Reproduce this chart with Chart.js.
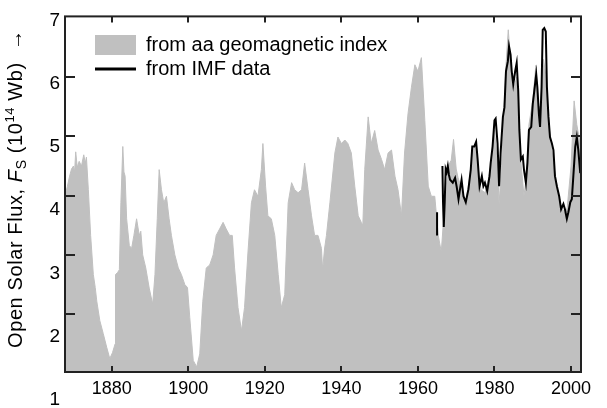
<!DOCTYPE html>
<html>
<head>
<meta charset="utf-8">
<script src="https://cdn.jsdelivr.net/npm/chart.js@4.4.1/dist/chart.umd.min.js"></script>
<style>
  html, body { margin: 0; padding: 0; background: #fff; }
  canvas { display: block; }
</style>
</head>
<body>
<canvas id="flux-chart" width="607" height="408"></canvas>
<script>
// open solar flux reconstructed from the aa index (grey area)
const aaYears = [
	1867.8, 1868.4, 1869.0, 1869.5, 1870.0, 1870.3, 1870.6, 1871.0, 1871.5, 1872.1,
	1872.7, 1873.1, 1873.4, 1873.9, 1874.5, 1875.2, 1875.7, 1876.1, 1876.9, 1877.8,
	1878.7, 1879.5, 1880.2, 1880.9, 1881.0, 1881.5, 1882.0, 1882.4, 1882.9, 1883.2,
	1883.5, 1883.9, 1884.6, 1885.2, 1885.8, 1886.5, 1887.2, 1887.6, 1888.1, 1888.9,
	1889.8, 1890.7, 1891.3, 1891.9, 1892.4, 1893.0, 1893.6, 1894.3, 1895.0, 1895.6,
	1896.5, 1897.4, 1898.2, 1899.1, 1899.8, 1900.4, 1901.3, 1902.2, 1903.0, 1903.8,
	1904.7, 1905.6, 1906.5, 1907.3, 1908.2, 1909.1, 1909.9, 1910.8, 1911.5, 1912.1,
	1913.0, 1913.9, 1914.7, 1915.6, 1916.5, 1917.3, 1918.2, 1919.1, 1919.5, 1920.2,
	1920.8, 1921.7, 1922.6, 1923.5, 1924.3, 1925.2, 1926.1, 1927.0, 1927.8, 1928.7,
	1929.6, 1930.4, 1931.3, 1932.2, 1933.0, 1933.9, 1934.8, 1935.1, 1935.6, 1936.1,
	1937.0, 1938.3, 1939.1, 1940.0, 1940.9, 1941.7, 1942.6, 1943.5, 1944.4, 1945.2,
	1945.6, 1946.1, 1947.0, 1947.8, 1948.7, 1949.6, 1950.5, 1951.3, 1952.2, 1953.1,
	1954.0, 1954.8, 1955.7, 1956.5, 1957.4, 1958.3, 1959.2, 1960.0, 1960.9, 1961.8,
	1962.7, 1963.5, 1964.4, 1965.3, 1966.1, 1967.0, 1967.9, 1968.7, 1969.3, 1970.0,
	1970.5, 1971.5, 1972.5, 1973.5, 1974.5, 1975.2, 1976.0, 1976.5, 1977.5, 1978.5,
	1979.5, 1980.0, 1980.8, 1981.2, 1982.0, 1983.0, 1983.6, 1984.3, 1985.0, 1985.8,
	1986.5, 1987.0, 1987.7, 1988.5, 1989.0, 1990.0, 1990.8, 1991.5, 1992.0, 1992.8,
	1993.5, 1993.8, 1994.5, 1995.5, 1996.5, 1997.5, 1998.5, 1999.0, 2000.0, 2000.8,
	2001.5, 2002.6
];
const aaFlux = [
	4.00, 4.15, 4.33, 4.45, 4.50, 4.40, 4.74, 4.48, 4.58, 4.50,
	4.69, 4.55, 4.65, 4.10, 3.33, 2.67, 2.45, 2.22, 1.89, 1.67,
	1.44, 1.25, 1.35, 1.50, 2.67, 2.70, 2.75, 3.88, 4.83, 4.40,
	4.33, 3.61, 3.16, 3.11, 3.33, 3.61, 3.33, 3.40, 3.00, 2.78,
	2.44, 2.17, 2.67, 3.61, 4.44, 4.10, 3.88, 3.99, 3.61, 3.33,
	3.00, 2.78, 2.67, 2.50, 2.45, 1.94, 1.22, 1.11, 1.33, 2.22,
	2.78, 2.83, 3.00, 3.33, 3.44, 3.55, 3.44, 3.33, 3.33, 2.78,
	2.11, 1.72, 2.11, 3.05, 3.88, 4.10, 3.99, 4.44, 4.88, 4.16,
	3.66, 3.61, 3.33, 2.67, 2.11, 2.33, 3.88, 4.22, 4.10, 4.05,
	4.10, 4.55, 4.10, 3.66, 3.33, 3.33, 3.11, 2.75, 3.10, 3.33,
	3.88, 4.72, 4.99, 4.88, 4.94, 4.88, 4.72, 4.16, 3.66, 3.55,
	3.50, 4.44, 5.33, 4.88, 5.10, 4.77, 4.61, 4.44, 4.72, 4.77,
	4.33, 4.10, 3.66, 4.72, 5.38, 5.83, 6.21, 6.10, 6.33, 5.27,
	4.16, 3.99, 3.99, 3.33, 3.05, 3.88, 4.50, 4.60, 4.95, 4.45,
	4.30, 4.10, 3.90, 4.30, 4.80, 4.85, 4.30, 4.10, 4.05, 4.30,
	4.70, 5.10, 4.50, 3.85, 4.70, 6.20, 6.80, 6.20, 5.80, 6.00,
	5.00, 4.50, 4.00, 4.40, 5.20, 5.60, 6.20, 5.50, 5.50, 6.30,
	6.00, 5.60, 5.00, 4.50, 4.10, 3.80, 3.70, 3.80, 4.50, 5.60,
	5.20, 4.80
];

// open solar flux from IMF measurements (black line), null = gap
const imfYears = [
	1965.0, 1965.0, 1965.7, 1966.4, 1966.55, 1966.75, 1967.0, 1967.25, 1967.5, 1967.8,
	1968.1, 1968.4, 1969.1, 1969.7, 1970.1, 1970.6, 1971.0, 1971.4, 1971.9, 1972.5,
	1973.2, 1973.8, 1974.2, 1974.7, 1975.2, 1975.6, 1976.1, 1976.7, 1977.1, 1977.5,
	1978.1, 1978.7, 1979.0, 1979.5, 1980.0, 1980.3, 1980.8, 1981.2, 1981.6, 1982.2,
	1982.6, 1983.0, 1983.5, 1983.8, 1984.2, 1984.5, 1984.9, 1985.4, 1985.8, 1986.2,
	1986.5, 1986.9, 1987.4, 1987.7, 1988.2, 1988.6, 1989.0, 1989.6, 1990.0, 1990.4,
	1990.9, 1991.2, 1991.6, 1991.9, 1992.3, 1992.6, 1993.0, 1993.4, 1993.7, 1994.1,
	1994.5, 1995.0, 1995.4, 1995.8, 1996.3, 1996.9, 1997.4, 1998.0, 1998.4, 1998.9,
	1999.3, 1999.8, 2000.2, 2000.6, 2001.1, 2001.5, 2001.9, 2002.4
];
const imfFlux = [
	3.72, 3.33, null, 4.50, 3.90, 3.47, 3.90, 4.45, 4.40, 4.50,
	4.35, 4.27, 4.22, 4.30, 4.16, 3.94, 4.11, 4.27, 3.99, 3.89,
	4.11, 4.44, 4.83, 4.83, 4.91, 4.61, 4.16, 4.33, 4.16, 4.22,
	4.08, 4.33, 4.55, 4.83, 5.27, 5.30, 4.88, 4.16, 4.72, 5.33,
	5.49, 6.10, 6.27, 6.52, 6.38, 6.10, 5.88, 6.10, 6.24, 5.77,
	5.11, 4.61, 4.66, 4.44, 4.22, 4.55, 5.11, 5.16, 5.55, 5.77,
	6.05, 5.83, 5.38, 5.16, 5.83, 6.80, 6.83, 6.77, 5.83, 5.33,
	4.99, 4.88, 4.77, 4.33, 4.16, 3.99, 3.77, 3.86, 3.77, 3.61,
	3.72, 3.89, 3.94, 4.33, 4.83, 4.99, 4.77, 4.38
];

const xTicks = [1880, 1900, 1920, 1940, 1960, 1980, 2000];
const yTicks = [2, 3, 4, 5, 6];
const yLabels = [1, 2, 3, 4, 5, 6, 7];

const aaLabel = 'from aa geomagnetic index';
const imfLabel = 'from IMF data';

const FONT = "'Liberation Sans', Arial, Helvetica, sans-serif";
const GREY = '#c0c0c0';
const INK = '#222';

// axis ranges
const X_MIN = 1867.8, X_MAX = 2002.6;
const Y_MIN = 1.024, Y_MAX = 7.026;
// the printed y numbers sit on a slightly different scale than the tick marks
const LAB_MIN = 1.434, LAB_MAX = 7.075;

// y axis title, drawn as rich text (italic F, subscript, superscript)
const titleRuns = [
	{ text: 'Open Solar Flux, ', size: 20, dy: 0 },
	{ text: 'F', size: 20, dy: 0, italic: true },
	{ text: 'S', size: 14, dy: 4 },
	{ text: ' (10', size: 20, dy: 0 },
	{ text: '14', size: 13, dy: -8 },
	{ text: ' Wb)', size: 20, dy: 0 },
	{ text: '  \u2192', size: 20, dy: 0 }
];

const axisTitle = {
	id: 'axisTitle',
	afterDraw(chart) {
		const ctx = chart.ctx;
		ctx.save();
		ctx.translate(22, 348);
		ctx.rotate(-Math.PI / 2);
		ctx.fillStyle = '#000';
		ctx.textBaseline = 'alphabetic';
		ctx.textAlign = 'left';
		if ('letterSpacing' in ctx) ctx.letterSpacing = '0.6px';
		let x = 0;
		for (const run of titleRuns) {
			ctx.font = (run.italic ? 'italic ' : '') + run.size + 'px ' + FONT;
			ctx.fillText(run.text, x, run.dy);
			x += ctx.measureText(run.text).width;
		}
		ctx.restore();
	}
};

// box round the plot, ticks pointing inwards on all four sides
const frameTicks = {
	id: 'frameTicks',
	afterDatasetsDraw(chart) {
		const { ctx, chartArea: a, scales } = chart;
		ctx.save();
		ctx.strokeStyle = INK;
		ctx.lineWidth = 2;
		ctx.beginPath();
		for (const v of xTicks) {
			const px = Math.round(scales.x.getPixelForValue(v));
			ctx.moveTo(px, a.bottom); ctx.lineTo(px, a.bottom - 6);
			ctx.moveTo(px, a.top); ctx.lineTo(px, a.top + 6);
		}
		for (const v of yTicks) {
			const py = Math.round(scales.y.getPixelForValue(v));
			ctx.moveTo(a.left, py); ctx.lineTo(a.left + 10, py);
			ctx.moveTo(a.right, py); ctx.lineTo(a.right - 10, py);
		}
		ctx.stroke();
		ctx.strokeRect(a.left, a.top, a.right - a.left, a.bottom - a.top);
		ctx.restore();
	}
};

// a vertical legend inside the chart area starts at top 0, so move it down/right
const legendShift = {
	id: 'legendShift',
	afterLayout(chart) {
		const l = chart.legend;
		l.left += 26; l.right += 26;
		l.top += 31; l.bottom += 31;
	}
};

function pts(xs, ys) {
	return xs.map((x, i) => ({ x: x, y: ys[i] }));
}

const tickSet = (vals) => (s) => { s.ticks = vals.map(v => ({ value: v })); };

const ctx = document.getElementById('flux-chart').getContext('2d');
const chart = new Chart(ctx, {
	type: 'line',
	data: {
		datasets: [
			{
				label: aaLabel,
				data: pts(aaYears, aaFlux),
				xAxisID: 'x',
				yAxisID: 'y',
				fill: 'start',
				backgroundColor: GREY,
				borderColor: GREY,
				borderWidth: 1,
				pointRadius: 0,
				tension: 0,
				order: 2
			},
			{
				label: imfLabel,
				data: pts(imfYears, imfFlux),
				xAxisID: 'x',
				yAxisID: 'y',
				fill: false,
				borderColor: '#000',
				borderWidth: 2,
				pointRadius: 0,
				tension: 0,
				spanGaps: false,
				order: 1
			}
		]
	},
	options: {
		responsive: false,
		animation: false,
		devicePixelRatio: 1,
		layout: { padding: { left: 0, right: 26, top: 11, bottom: 0 } },
		plugins: {
			tooltip: { enabled: false },
			legend: {
				position: 'chartArea',
				align: 'start',
				labels: {
					usePointStyle: true,
					pointStyleWidth: 41,
					boxHeight: 20,
					padding: 4,
					color: '#000',
					font: { family: FONT, size: 20 },
					generateLabels: () => [
						{ text: aaLabel, fillStyle: GREY, strokeStyle: GREY, lineWidth: 0, pointStyle: 'rect', datasetIndex: 0, hidden: false },
						{ text: imfLabel, fillStyle: '#000', strokeStyle: '#000', lineWidth: 3, pointStyle: 'line', datasetIndex: 1, hidden: false }
					]
				}
			}
		},
		scales: {
			x: {
				type: 'linear', position: 'bottom', min: X_MIN, max: X_MAX,
				afterBuildTicks: tickSet(xTicks),
				afterFit: s => { s.height = 36; },
				border: { display: false },
				grid: { display: false, drawTicks: false },
				ticks: { color: '#000', font: { family: FONT, size: 18 }, padding: 6, maxRotation: 0, autoSkip: false, callback: v => String(v) }
			},
			yLab: {
				type: 'linear', axis: 'y', position: 'left', min: LAB_MIN, max: LAB_MAX, weight: 10,
				afterBuildTicks: tickSet(yLabels),
				afterFit: s => { s.width = 65; },
				border: { display: false },
				grid: { display: false, drawTicks: false },
				ticks: { color: '#000', font: { family: FONT, size: 19 }, padding: 5, autoSkip: false, callback: v => String(v) }
			},
			y: {
				type: 'linear', position: 'left', min: Y_MIN, max: Y_MAX, weight: 0,
				afterBuildTicks: tickSet(yTicks),
				afterFit: s => { s.width = 0; },
				border: { display: false },
				grid: { display: false, drawTicks: false },
				ticks: { display: false }
			}
		}
	},
	plugins: [legendShift, frameTicks, axisTitle]
});
</script>
</body>
</html>
